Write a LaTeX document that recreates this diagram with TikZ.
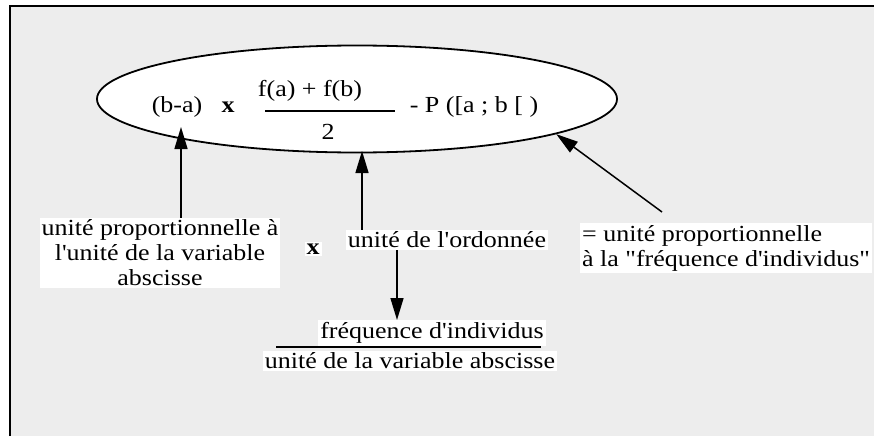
\documentclass[tikz,border=0pt]{standalone}
\usepackage{fontspec}
\setmainfont{Liberation Serif}[FakeStretch=1.13,Ligatures=TeXOff]
\usetikzlibrary{shapes.geometric,arrows.meta}
\tikzset{
  flecha/.style={line width=1.5pt,-{Triangle[length=22pt,width=13pt]}},
  termino/.style={inner sep=0pt,font=\fontsize{23}{25}\selectfont},
  etiqueta/.style={fill=white,inner sep=2pt,font=\fontsize{23}{25}\selectfont},
}

\begin{document}
\begin{tikzpicture}[x=1pt,y=-1pt]
% Marco y fondo
\useasboundingbox (0,0) rectangle (874,436);
\fill[black!7] (10,6) rectangle (874,436);
\draw[line width=2pt] (10,436) -- (10,6) -- (874,6);

% Elipse con la formula
\node[ellipse,draw,fill=white,line width=1.8pt,minimum width=520pt,
      minimum height=107pt,inner sep=0pt] (formula) at (357,99) {};
\node[termino] (ba) at (177,107) {(b-a)};
\node[termino] (mult) at (228,107) {\textbf{x}};
\node[termino] (num) at (310,91) {f(a) + f(b)};
\node[termino] (den) at (328,132) {2};
\draw[line width=1.5pt] (265,111) -- (395,111);
\node[termino] (proba) at (474,107) {- P ([a ; b [ )};

% Etiquetas
\node[etiqueta,align=center] (lblAbs) at (160,253)
  {unité proportionnelle à\\l'unité de la variable\\abscisse};
\node[etiqueta] (mult2) at (313,249) {\textbf{x}};
\node[etiqueta] (lblOrd) at (447,240) {unité de l'ordonnée};
\node[etiqueta,align=left,anchor=west] (lblFreq) at (580,248)
  {= unité proportionnelle\\à la "fréquence d'individus"};

% Fraccion de abajo
\node[etiqueta] (frq) at (432,333) {fréquence d'individus};
\node[etiqueta] (uva) at (410,361) {unité de la variable abscisse};
\draw[line width=1.5pt] (276,347) -- (541,347);

% Flechas
\coordinate (pAbs) at (181,127);
\coordinate (pOrd) at (362,151);
\coordinate (pFrq) at (397,320);
\coordinate (cFreq) at (662,212);
\draw[flecha] (pAbs |- lblAbs.north) -- (pAbs);
\draw[flecha] (pOrd |- lblOrd.north) -- (pOrd);
\draw[flecha] (pFrq |- lblOrd.south) -- (pFrq);
\draw[flecha] (cFreq) -- (formula.-10.7);
\end{tikzpicture}
\end{document}
